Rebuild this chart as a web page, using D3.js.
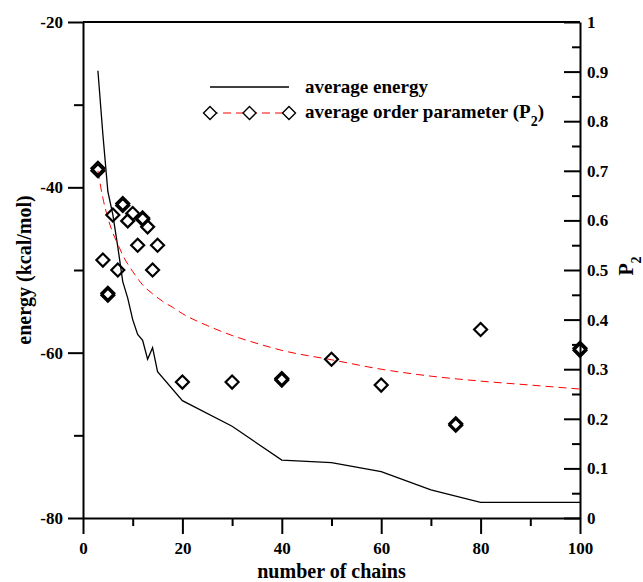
<!DOCTYPE html>
<html>
<head>
<meta charset="utf-8">
<script src="https://cdn.jsdelivr.net/npm/d3@7"></script>
<style>
  body { margin: 0; background: #fff; }
  svg { display: block; font-family: "Liberation Serif", "Times New Roman", serif; font-weight: bold; }
  .axis path, .axis line { stroke: #000; stroke-width: 2; }
  .axis text { font-size: 17px; font-family: "Liberation Serif", serif; font-weight: bold; fill: #000; }
</style>
</head>
<body>
<svg id="chart" width="643" height="582"></svg>
<script>

// energy curve (kcal/mol) vs number of chains
var energyChains = [3, 4, 5, 6, 7, 8, 9, 10, 11, 12, 13, 14, 15, 20, 30, 40, 50, 60, 70, 80, 100];
var energyValues = [-25.9, -33.6, -40.5, -43.3, -47.2, -51.4, -53.4, -56.0, -57.8, -58.5, -60.8, -59.4, -62.3, -65.8, -68.9, -73.0, -73.3, -74.4, -76.6, -78.1, -78.1];

// order parameter points (P2)
var p2Chains = [3, 3, 4, 5, 5, 6, 7, 8, 8, 9, 10, 11, 12, 12, 13, 14, 15, 20, 30, 40, 40, 50, 60, 75, 75, 80, 100, 100];
var p2Values = [0.705, 0.700, 0.520, 0.453, 0.449, 0.611, 0.500, 0.634, 0.630, 0.599, 0.614, 0.550, 0.605, 0.602, 0.587, 0.500, 0.550, 0.274, 0.274, 0.281, 0.278, 0.320, 0.268, 0.190, 0.187, 0.380, 0.342, 0.338];

// fitted P2 curve (red dashed)
var fitChains = [3, 4, 5, 6, 7, 8, 9, 10, 12, 14, 16, 18, 20, 25, 30, 35, 40, 50, 60, 70, 80, 90, 100];
var fitValues = [0.700, 0.645, 0.605, 0.575, 0.552, 0.530, 0.512, 0.497, 0.470, 0.452, 0.437, 0.425, 0.412, 0.388, 0.368, 0.352, 0.338, 0.319, 0.300, 0.286, 0.276, 0.268, 0.260];

var xTicks = [0, 20, 40, 60, 80, 100];
var energyTicks = [-20, -40, -60, -80];
var p2Ticks = [0, 0.1, 0.2, 0.3, 0.4, 0.5, 0.6, 0.7, 0.8, 0.9, 1];

var svg = d3.select("#chart");

var margin = {left: 83, right: 580, top: 22, bottom: 518};

var x = d3.scaleLinear().domain([0, 100]).range([margin.left, margin.right]);
var yE = d3.scaleLinear().domain([-80, -20]).range([margin.bottom, margin.top]);
var yP = d3.scaleLinear().domain([0, 1]).range([margin.bottom, margin.top]);

var plain = function(d) { return String(d); };

// minor ticks
svg.append("g").attr("class", "axis")
  .attr("transform", "translate(0," + margin.bottom + ")")
  .call(d3.axisBottom(x).tickValues(d3.range(10, 100, 20)).tickSize(8).tickFormat(""))
  .select(".domain").remove();

svg.append("g").attr("class", "axis")
  .attr("transform", "translate(" + margin.left + ",0)")
  .call(d3.axisLeft(yE).tickValues([-30, -50, -70]).tickSize(9).tickFormat(""))
  .select(".domain").remove();

svg.append("g").attr("class", "axis")
  .attr("transform", "translate(" + margin.right + ",0)")
  .call(d3.axisLeft(yP).tickValues(d3.range(0.05, 1, 0.1)).tickSize(8).tickFormat(""))
  .select(".domain").remove();

// major ticks
svg.append("g").attr("class", "axis")
  .attr("transform", "translate(0," + margin.bottom + ")")
  .call(d3.axisBottom(x).tickValues(xTicks).tickSize(16).tickSizeOuter(0).tickPadding(8).tickFormat(plain));

svg.append("g").attr("class", "axis")
  .attr("transform", "translate(" + margin.left + ",0)")
  .call(d3.axisLeft(yE).tickValues(energyTicks).tickSize(15).tickSizeOuter(0).tickPadding(5).tickFormat(plain));

var pAxis = svg.append("g").attr("class", "axis")
  .attr("transform", "translate(" + margin.right + ",0)")
  .call(d3.axisLeft(yP).tickValues(p2Ticks).tickSize(16).tickSizeOuter(0).tickFormat(plain));
pAxis.selectAll("text").attr("x", 7).attr("text-anchor", "start");

// top border
svg.append("line")
  .attr("x1", margin.left).attr("x2", margin.right).attr("y1", margin.top).attr("y2", margin.top)
  .attr("stroke", "#000").attr("stroke-width", 2);

// energy line
var eLine = d3.line()
  .x(function(d, i) { return x(energyChains[i]); })
  .y(function(d) { return yE(d); });

svg.append("path")
  .datum(energyValues)
  .attr("d", eLine)
  .attr("fill", "none")
  .attr("stroke", "#000")
  .attr("stroke-width", 1.3);

// fit curve
var fLine = d3.line()
  .curve(d3.curveMonotoneX)
  .x(function(d, i) { return x(fitChains[i]); })
  .y(function(d) { return yP(d); });

svg.append("path")
  .datum(fitValues)
  .attr("d", fLine)
  .attr("fill", "none")
  .attr("stroke", "#ff0000")
  .attr("stroke-width", 1)
  .attr("stroke-dasharray", "8,5");

var diamond = function(r) {
  return "M0," + (-r) + "L" + r + ",0L0," + r + "L" + (-r) + ",0Z";
};

svg.append("g").selectAll("path")
  .data(p2Values)
  .enter().append("path")
  .attr("transform", function(d, i) { return "translate(" + x(p2Chains[i]) + "," + yP(d) + ")"; })
  .attr("d", diamond(6.5))
  .attr("fill", "none")
  .attr("stroke", "#000")
  .attr("stroke-width", 2.2);

// legend
var lg = svg.append("g");
lg.append("line")
  .attr("x1", 210).attr("x2", 289).attr("y1", 87).attr("y2", 87)
  .attr("stroke", "#000").attr("stroke-width", 1.3);
lg.append("text").attr("x", 305).attr("y", 93)
  .style("font-size", "19px").text("average energy");

lg.append("line")
  .attr("x1", 210).attr("x2", 289).attr("y1", 113).attr("y2", 113)
  .attr("stroke", "#ff0000").attr("stroke-width", 1).attr("stroke-dasharray", "8,5");
[210, 249.5, 289].forEach(function(cx) {
  lg.append("path")
    .attr("transform", "translate(" + cx + ",113)")
    .attr("d", diamond(6.5))
    .attr("fill", "#fff")
    .attr("stroke", "#000")
    .attr("stroke-width", 1.4);
});
var t2 = lg.append("text").attr("x", 305).attr("y", 118).style("font-size", "19px");
t2.append("tspan").text("average order parameter (P");
t2.append("tspan").attr("baseline-shift", "sub").style("font-size", "14px").text("2");
t2.append("tspan").text(")");

// axis titles
svg.append("text")
  .attr("x", (margin.left + margin.right) / 2).attr("y", 578)
  .attr("text-anchor", "middle")
  .style("font-size", "20px")
  .text("number of chains");

svg.append("text")
  .attr("transform", "translate(31," + (margin.top + margin.bottom) / 2 + ") rotate(-90)")
  .attr("text-anchor", "middle")
  .style("font-size", "20px")
  .text("energy (kcal/mol)");

var pt = svg.append("text")
  .attr("transform", "translate(633," + ((margin.top + margin.bottom) / 2 - 4) + ") rotate(-90)")
  .attr("text-anchor", "middle")
  .style("font-size", "20px");
pt.append("tspan").text("P");
pt.append("tspan").attr("baseline-shift", "sub").style("font-size", "14px").text("2");

</script>
</body>
</html>
